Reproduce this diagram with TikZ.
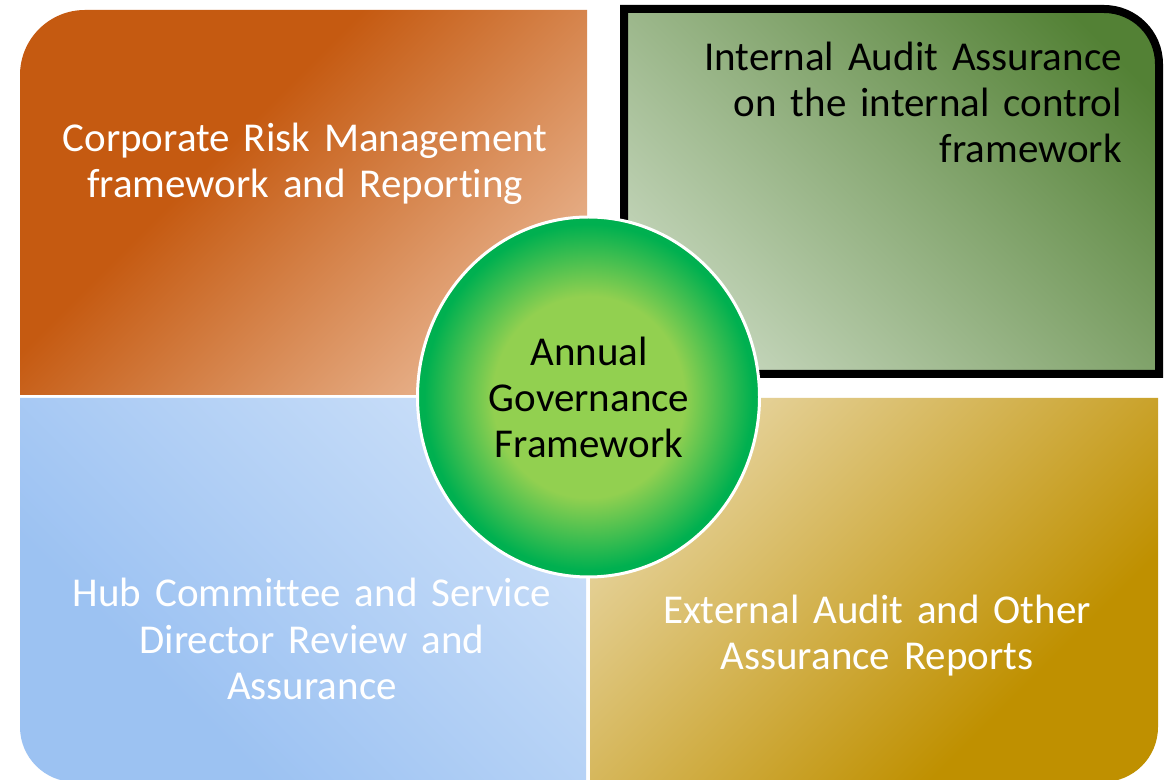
\documentclass[tikz,border=0pt]{standalone}
\usepackage{fontspec}
\setmainfont{Carlito}[Ligatures=NoCommon, WordSpace=1.5]
\definecolor{orD}{HTML}{C55A11}
\definecolor{orL}{HTML}{F1CAAE}
\definecolor{grD}{HTML}{538135}
\definecolor{grL}{HTML}{D8E4D2}
\definecolor{blD}{HTML}{9CC2F2}
\definecolor{blL}{HTML}{D4E5FA}
\definecolor{gdD}{HTML}{BF9000}
\definecolor{gdL}{HTML}{F0E4C4}
\definecolor{ciL}{HTML}{92D050}
\definecolor{ciD}{HTML}{00B050}
\pgfdeclareverticalshading{orsh}{100bp}{color(0bp)=(orL); color(26bp)=(orL); color(57bp)=(orD); color(100bp)=(orD)}
\pgfdeclareverticalshading{grsh}{100bp}{color(0bp)=(grL); color(25bp)=(grL); color(70bp)=(grD); color(100bp)=(grD)}
\pgfdeclareverticalshading{blsh}{100bp}{color(0bp)=(blL); color(25bp)=(blL); color(62bp)=(blD); color(100bp)=(blD)}
\pgfdeclareverticalshading{gdsh}{100bp}{color(0bp)=(gdL); color(25bp)=(gdL); color(63bp)=(gdD); color(100bp)=(gdD)}
\pgfdeclareradialshading{circsh}{\pgfpoint{0bp}{0bp}}{color(0bp)=(ciL); color(14bp)=(ciL); color(24bp)=(ciD); color(50bp)=(ciD)}
\tikzset{
  lbl/.style={font=\fontsize{41}{46}\selectfont, inner sep=0pt},
}
\begin{document}
\begin{tikzpicture}[x=1pt,y=1pt]
\fill[white] (0,0) rectangle (1164,779);
\useasboundingbox (0,0) rectangle (1164,779);
% orange (top left)
\begin{scope}
  \clip (20,384) -- (20,704) arc[start angle=180,end angle=90,radius=65] -- (587,769) -- (587,384) -- cycle;
  \begin{scope}[transform canvas={rotate around={45:(303.5,576.5)}}]
    \shade[shading=orsh] (-33.5,239.5) rectangle (640.5,913.5);
  \end{scope}
\end{scope}
% green (top right)
\begin{scope}
  \clip (624,405) -- (624,770) -- (1104,770) arc[start angle=90,end angle=0,radius=55] -- (1159,405) -- cycle;
  \begin{scope}[transform canvas={rotate around={-45:(891.5,587.5)}}]
    \shade[shading=grsh] (573,269) rectangle (1210,906);
  \end{scope}
\end{scope}
\draw[line width=8pt, black] (624,405) -- (624,770) -- (1104,770) arc[start angle=90,end angle=0,radius=55] -- (1159,405) -- cycle;
% blue (bottom left)
\begin{scope}
  \clip (20,381) -- (20,52) arc[start angle=180,end angle=270,radius=55] -- (586,-3) -- (586,381) -- cycle;
  \begin{scope}[transform canvas={rotate around={135:(303,189)}}]
    \shade[shading=blsh] (-34,-148) rectangle (640,526);
  \end{scope}
\end{scope}
% gold (bottom right)
\begin{scope}
  \clip (590,381) -- (590,-3) -- (1103,-3) arc[start angle=270,end angle=360,radius=55] -- (1158,381) -- cycle;
  \begin{scope}[transform canvas={rotate around={-135:(874,189)}}]
    \shade[shading=gdsh] (537,-148) rectangle (1211,526);
  \end{scope}
\end{scope}
% central circle
\shadedraw[shading=circsh, draw=white, line width=3pt] (588.5,382) ellipse[x radius=171, y radius=180];
% texts
\node[lbl, text=white, align=center, anchor=base] (crm) at (305,581) {Corporate Risk Management\\framework and Reporting};
\node[lbl, text=black, align=right, anchor=base east] (iaa) at (1122,616) {Internal Audit Assurance\\on the internal control\\framework};
\node[lbl, text=black, align=center, anchor=base] (agf) at (589,321) {Annual\\Governance\\Framework};
\node[lbl, text=white, align=center, anchor=base] (hub) at (312,80) {Hub Committee and Service\\Director Review and\\Assurance};
\node[lbl, text=white, align=center, anchor=base] (ext) at (877,110) {External Audit and Other\\Assurance Reports};
\end{tikzpicture}
\end{document}
